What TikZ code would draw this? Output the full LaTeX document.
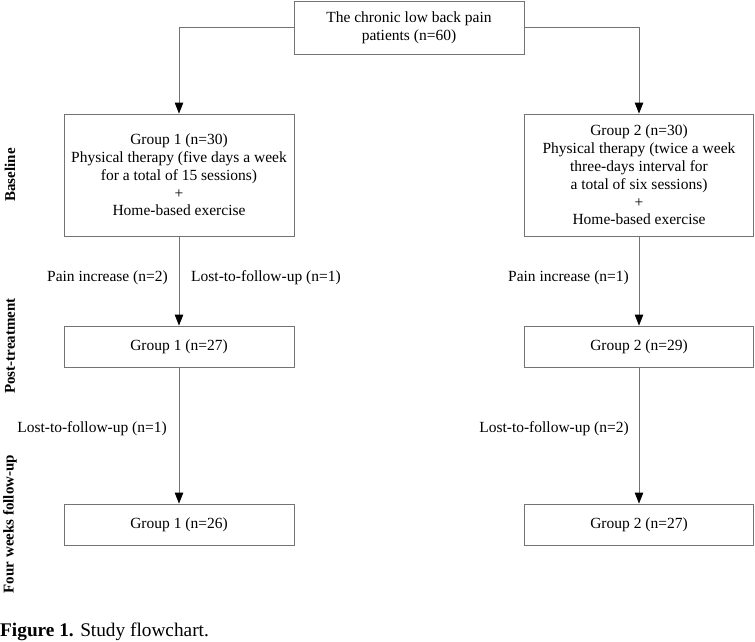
\documentclass[tikz,border=0pt]{standalone}
\usepackage{fontspec}
\setmainfont{Liberation Serif}
\usetikzlibrary{arrows.meta}
\begin{document}
\begin{tikzpicture}[x=1pt,y=-1pt,
  box/.style={draw=black!55, line width=0.9pt, align=center, inner sep=0pt, font=\fontsize{15.5}{17.8}\selectfont},
  lbl/.style={inner sep=0pt, font=\fontsize{15.5}{18}\selectfont},
  side/.style={inner sep=0pt, rotate=90, font=\fontsize{15}{18}\selectfont\bfseries},
  conn/.style={draw=black!55, line width=0.9pt, -{Triangle[length=11pt,width=8.5pt,color=black]}}
]
\useasboundingbox (0,0) rectangle (755,641);
\node[box, minimum width=230pt, minimum height=53pt] (top) at (409,27.5) {The chronic low back pain\\patients (n=60)};
\node[box, minimum width=230pt, minimum height=122pt] (g1) at (179,175) {Group 1 (n=30)\\Physical therapy (five days a week\\for a total of 15 sessions)\\+\\Home-based exercise};
\node[box, minimum width=229pt, minimum height=122pt] (g2) at (639,175) {Group 2 (n=30)\\Physical therapy (twice a week\\three-days interval for\\a total of six sessions)\\+\\Home-based exercise};
\node[box, minimum width=230pt, minimum height=41pt] (g1b) at (179,346.5) {Group 1 (n=27)};
\node[box, minimum width=229pt, minimum height=41pt] (g2b) at (639,346.5) {Group 2 (n=29)};
\node[box, minimum width=230pt, minimum height=41pt] (g1c) at (179,524.5) {Group 1 (n=26)};
\node[box, minimum width=229pt, minimum height=41pt] (g2c) at (639,524.5) {Group 2 (n=27)};
\draw[conn] (top.west) -| (g1.north);
\draw[conn] (top.east) -| (g2.north);
\draw[conn] (g1.south) -- (g1b.north);
\draw[conn] (g1b.south) -- (g1c.north);
\draw[conn] (g2.south) -- (g2b.north);
\draw[conn] (g2b.south) -- (g2c.north);
\node[lbl, anchor=east] (p1) at (168,278) {Pain increase (n=2)};
\node[lbl, anchor=west] (l1) at (191,278) {Lost-to-follow-up (n=1)};
\node[lbl, anchor=east] (l1b) at (167,429) {Lost-to-follow-up (n=1)};
\node[lbl, anchor=east] (p2) at (629,278) {Pain increase (n=1)};
\node[lbl, anchor=east] (l2b) at (629,429) {Lost-to-follow-up (n=2)};
\node[side] (s1) at (10,175) {Baseline};
\node[side] (s2) at (10,346) {Post-treatment};
\node[side] (s3) at (10,524) {Four weeks follow-up};
\node[anchor=base west, inner sep=0pt, font=\fontsize{19.3}{22}\selectfont] (cap) at (0,636) {\textbf{Figure 1.} Study flowchart.};
\end{tikzpicture}
\end{document}
